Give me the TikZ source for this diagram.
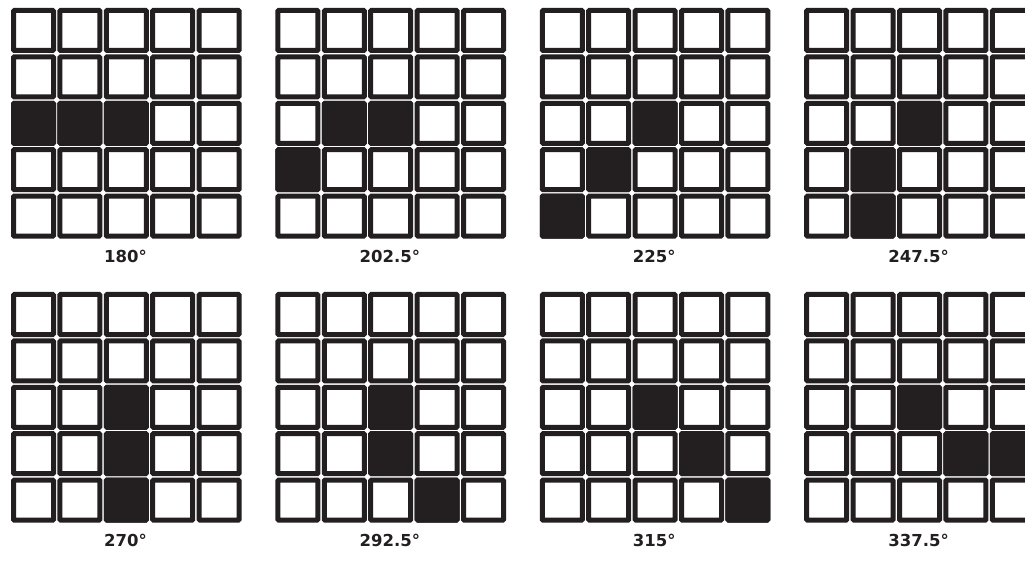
\documentclass[tikz,border=0pt]{standalone}
\usepackage{fontspec}
\setmainfont{DejaVu Sans}
\usepackage{xcolor}
\definecolor{cInk}{HTML}{231F20}
\usepackage{tikz}
\usetikzlibrary{positioning}
\tikzset{
  cell/.style={draw=cInk,line width=5pt,fill=white,rounded corners=0.8pt,
    minimum size=40pt,inner sep=0pt,outer sep=0pt},
  cell-on/.style={fill=cInk},
  angle-label/.style={font=\fontsize{16.5}{20}\selectfont\bfseries,text=cInk,inner sep=0pt},
}

\begin{document}
\begin{tikzpicture}[x=1pt,y=-1pt]
  \useasboundingbox (0,0) rectangle (1025,561);
  \clip (0,0) rectangle (1025,561);
  % grid no. / left / top / angle / dark cells (row/col)
  \foreach \k/\gx/\gy/\ang/\cells in {
      1/11/8/180/{2/0,2/1,2/2},
      2/275.4/8/202.5/{2/1,2/2,3/0},
      3/539.8/8/225/{2/2,3/1,4/0},
      4/804.2/8/247.5/{2/2,3/1,4/1},
      5/11/292/270/{2/2,3/2,4/2},
      6/275.4/292/292.5/{2/2,3/2,4/3},
      7/539.8/292/315/{2/2,3/3,4/4},
      8/804.2/292/337.5/{2/2,3/3,3/4}}
  {
    \foreach \r in {0,...,4}
      \foreach \c in {0,...,4}
        \node[cell] (g\k-\r\c) at (\gx+\c*46.4+22.5,\gy+\r*46.4+22.5) {};
    \foreach \r/\c in \cells
      \node[cell,cell-on] (on\k-\r\c) at (g\k-\r\c) {};
    \node[angle-label] (lab\k) at (\gx+114.5,\gy+248) {\ang{}°};
  }
\end{tikzpicture}
\end{document}
